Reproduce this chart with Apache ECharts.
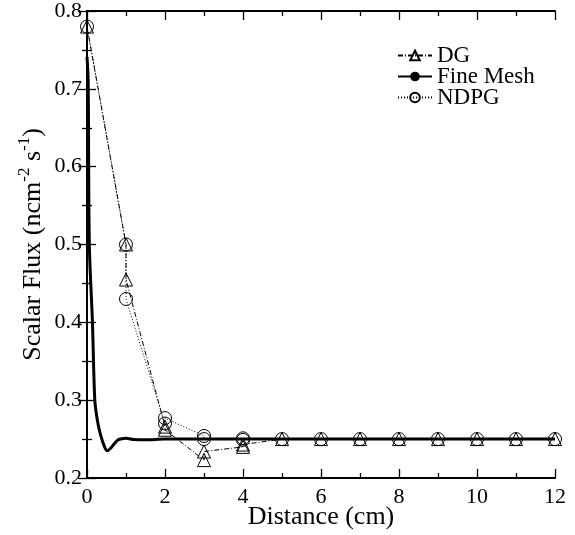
<!DOCTYPE html>
<html><head><meta charset="utf-8">
<script src="https://cdn.jsdelivr.net/npm/echarts@6/dist/echarts.min.js"></script>
<style>html,body{margin:0;padding:0;background:#fff}#c{width:575px;height:535px}</style>
</head><body><div id="c"></div>
<script>
const dgX   = [0, 1, 1, 2, 2, 3, 3, 4, 4, 5, 6, 7, 8, 9, 10, 11, 12];
const dgY   = [0.78, 0.50, 0.455, 0.266, 0.262, 0.223, 0.234, 0.240, 0.243, 0.250, 0.250, 0.250, 0.250, 0.250, 0.250, 0.250, 0.250];
const ndpgX = [0, 1, 1, 2, 2, 3, 3, 4, 4, 5, 6, 7, 8, 9, 10, 11, 12];
const ndpgY = [0.78, 0.50, 0.430, 0.270, 0.277, 0.254, 0.250, 0.251, 0.249, 0.250, 0.250, 0.250, 0.250, 0.250, 0.250, 0.250, 0.250];
const fineX = [0, 0.03, 0.06, 0.14, 0.2, 0.27, 0.35, 0.45, 0.52, 0.6, 0.7, 0.8, 0.9, 1.0, 1.2, 1.5, 2, 4, 6, 8, 10, 12];
const fineY = [0.741, 0.71, 0.50, 0.40, 0.30, 0.273, 0.255, 0.240, 0.235, 0.238, 0.244, 0.249, 0.2505, 0.251, 0.2495, 0.249, 0.250, 0.250, 0.250, 0.250, 0.250, 0.250];
const xTicks = [0, 2, 4, 6, 8, 10, 12];
const yTicks = [0.2, 0.3, 0.4, 0.5, 0.6, 0.7, 0.8];

const pairs = (xs, ys) => xs.map((x, i) => [x, ys[i]]);
const font = 'Liberation Serif';
const tick = {show: true, inside: true, length: 9, lineStyle: {color: '#000', width: 1.3}};
const minor = {show: true, splitNumber: 2, length: 5, lineStyle: {color: '#000', width: 1.3}};
const axLine = {show: true, lineStyle: {color: '#000', width: 2}};

const chart = echarts.init(document.getElementById('c'), null, {renderer: 'canvas'});
chart.setOption({
  backgroundColor: '#fff',
  animation: false,
  grid: {left: 87, right: 20, top: 11, bottom: 57, containLabel: false, outerBoundsMode: 'none'},
  legend: {
    orient: 'vertical', left: 397, top: 44, itemGap: -2,
    itemWidth: 34, itemHeight: 12, padding: 0,
    textStyle: {fontFamily: font, fontSize: 23, color: '#000'},
    data: ['DG', 'Fine Mesh', 'NDPG']
  },
  xAxis: [{
    type: 'value', min: xTicks[0], max: xTicks[xTicks.length - 1], interval: 2,
    name: 'Distance (cm)', nameLocation: 'middle', nameGap: 26, nameMoveOverlap: false,
    nameTextStyle: {fontFamily: font, fontSize: 26, color: '#000'},
    axisLine: axLine, axisTick: tick, minorTick: minor,
    axisLabel: {fontFamily: font, fontSize: 22, color: '#000', margin: 8},
    splitLine: {show: false}
  }, {
    type: 'value', position: 'top', min: 0, max: 12, interval: 2,
    axisLine: axLine, axisTick: tick, minorTick: minor,
    axisLabel: {show: false}, splitLine: {show: false}
  }],
  yAxis: [{
    type: 'value', min: yTicks[0], max: yTicks[yTicks.length - 1], interval: 0.1,
    name: '{a|Scalar Flux (ncm}{s|-2}{a| s}{s|-1}{a|)}',
    nameLocation: 'middle', nameGap: 41, nameMoveOverlap: false,
    nameTextStyle: {
      fontFamily: font, fontSize: 26, color: '#000',
      rich: {
        a: {fontFamily: font, fontSize: 26, color: '#000', verticalAlign: 'bottom', lineHeight: 30},
        s: {fontFamily: font, fontSize: 17, color: '#000', verticalAlign: 'top', lineHeight: 30, padding: [0, 0, 12, 0]}
      }
    },
    axisLine: axLine, axisTick: tick, minorTick: minor,
    axisLabel: {fontFamily: font, fontSize: 22, color: '#000', margin: 5, formatter: v => v.toFixed(1)},
    splitLine: {show: false}
  }, {
    type: 'value', position: 'right', min: 0.2, max: 0.8, interval: 0.1,
    axisLine: axLine, axisTick: tick, minorTick: minor,
    axisLabel: {show: false}, splitLine: {show: false}
  }],
  series: [{
    name: 'DG', type: 'line', data: pairs(dgX, dgY),
    symbol: 'triangle', symbolSize: 13, showAllSymbol: true,
    itemStyle: {color: 'rgba(0,0,0,0)', borderColor: '#000', borderWidth: 1},
    lineStyle: {color: '#000', width: 1, type: [5, 2, 1, 2]},
    z: 3
  }, {
    name: 'Fine Mesh', type: 'line', data: pairs(fineX, fineY),
    symbol: 'none', smooth: 0.3,
    itemStyle: {color: '#000'},
    lineStyle: {color: '#000', width: 3},
    z: 2
  }, {
    name: 'NDPG', type: 'line', data: pairs(ndpgX, ndpgY),
    symbol: 'circle', symbolSize: 13, showAllSymbol: true,
    itemStyle: {color: 'rgba(0,0,0,0)', borderColor: '#000', borderWidth: 1},
    lineStyle: {color: '#000', width: 1, type: [1, 2]},
    z: 3
  }]
});
</script></body></html>
